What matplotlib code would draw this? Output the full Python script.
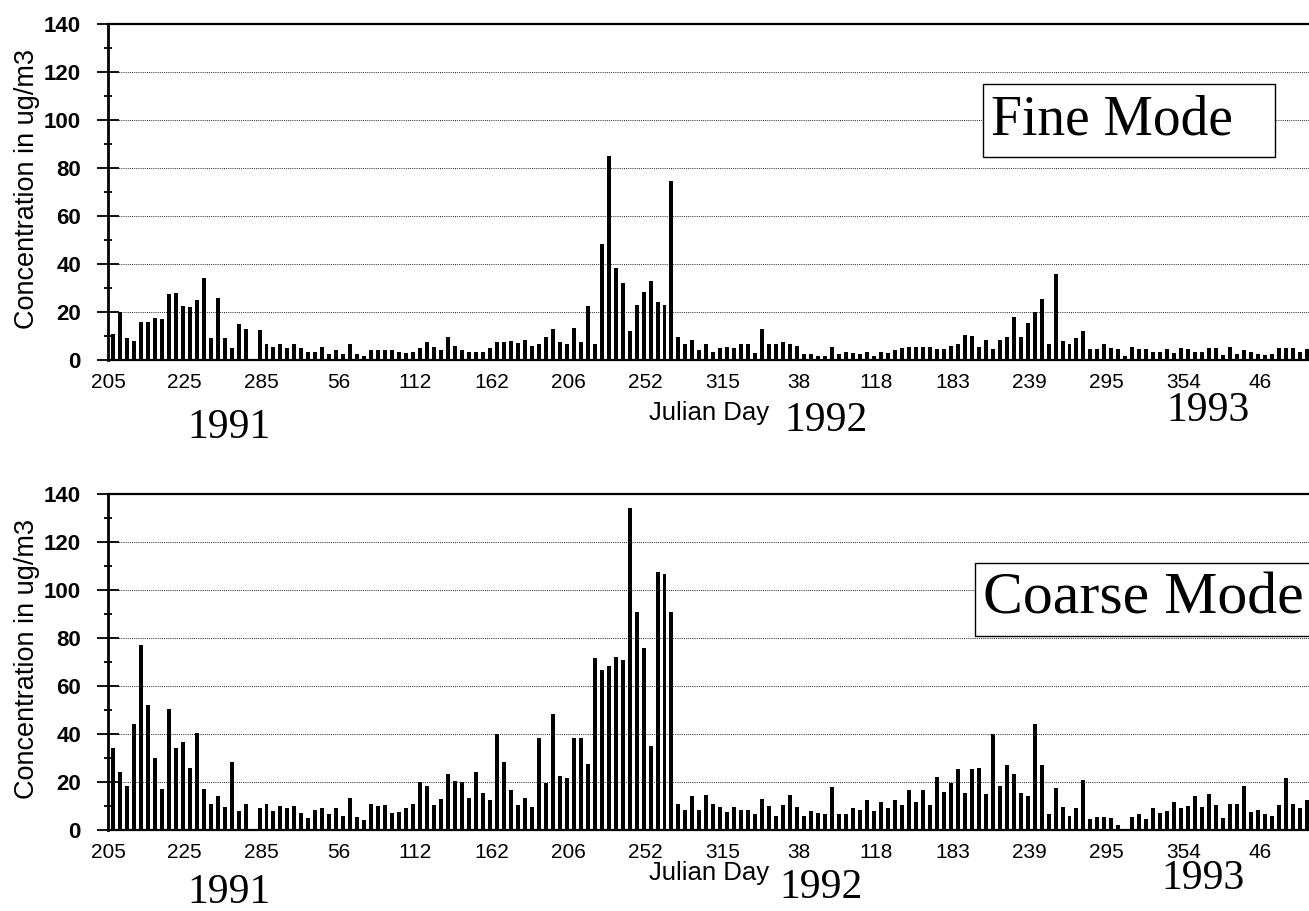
import numpy as np
import matplotlib
matplotlib.use("Agg")
import matplotlib.pyplot as plt
from matplotlib.patches import Rectangle
from matplotlib.ticker import MultipleLocator

plt.rcParams['font.family'] = ['Liberation Sans', 'DejaVu Sans']

# x axis labels (Julian day), one label every 11 samples
day_labels = ['205', '225', '285', '56', '112', '162', '206', '252', '315',
              '38', '118', '183', '239', '295', '354', '46']
label_step = 11
years = ['1991', '1992', '1993']

fine = [
    11, 20, 9, 8, 16, 16, 17.5, 17, 27.5, 28, 22.5, 22, 25, 34, 9, 26, 9, 5, 15, 13,
    0, 12.5, 6.5, 5.5, 6.5, 5, 6.5, 5, 3.5, 3.5,
    5.5, 2.5, 4, 2.5, 6.5, 2.5, 1.5, 4, 4, 4,
    4, 3.5, 3, 3.5, 5, 7.5, 5.5, 4, 9.5, 6,
    4, 3.5, 3.5, 3.5, 5, 7.5, 7.5, 8, 7, 8.5,
    6, 6.5, 9.5, 13, 7.5, 6.5, 13.5, 7.5, 22.5, 6.5,
    48.5, 85, 38.5, 32, 12, 23, 28.5, 33, 24, 23,
    74.5, 9.5, 6.5, 8.5, 4, 6.5, 3.5, 5, 5.5, 5,
    6.5, 6.5, 3, 13, 6.5, 6.5, 7.5, 6.5, 6, 2.5,
    2.5, 1.5, 1.5, 5.5, 2.5, 3.5, 3, 2.5, 3.5, 1.5,
    3.5, 3, 4, 5, 5.5, 5.5, 5.5, 5.5, 4.5, 4.5,
    6, 6.5, 10.5, 10, 5.5, 8.5, 4.5, 8.5, 9.5, 18,
    9.5, 15.5, 20, 25.5, 6.5, 36, 8, 6.5, 9, 12,
    4.5, 4.5, 6.5, 5, 4.5, 1.5, 5.5, 4.5, 4.5, 3.5,
    3.5, 4.5, 3, 5, 4.5, 3.5, 3.5, 5, 5, 2,
    5.5, 2.5, 4, 3.5, 2.5, 2, 2.5, 5, 5, 5,
    3.5, 4.5,
]

coarse = [
    34, 24, 18.5, 44, 77, 52, 30, 17, 50.5, 34, 36.5, 26, 40.5, 17, 11, 14, 9.5, 28.5, 8, 11,
    0, 9, 11, 8, 10, 9, 10, 7, 5, 8.5,
    9, 6.5, 9, 6, 13.5, 5.5, 4, 11, 10, 10.5,
    7, 7.5, 9, 11, 20, 18.5, 10.5, 13, 23.5, 20.5,
    20, 13.5, 24, 15.5, 12.5, 40, 28.5, 16.5, 10.5, 13.5,
    9.5, 38.5, 19.5, 48.5, 22.5, 21.5, 38.5, 38.5, 27.5, 71.5,
    66.5, 68.5, 72, 71, 134, 91, 76, 35, 107.5, 106.5,
    91, 11, 8.5, 14, 8.5, 14.5, 11, 9.5, 7.5, 9.5,
    8.5, 8.5, 6.5, 13, 10, 6, 10.5, 14.5, 9.5, 6,
    8, 7, 6.5, 18, 6.5, 6.5, 9, 8.5, 12.5, 8,
    11.5, 9, 12.5, 10.5, 16.5, 11.5, 16.5, 10.5, 22, 16,
    19.5, 25.5, 15.5, 25.5, 26, 15, 40, 18.5, 27, 23.5,
    15.5, 14, 44, 27, 6.5, 17.5, 9.5, 6, 9, 21,
    4.5, 5.5, 5.5, 5, 2, 0.6, 5.5, 6.5, 4.5, 9,
    7, 8, 11.5, 9, 10, 14, 9.5, 15, 10.5, 5,
    11, 11, 18.5, 7.5, 8.5, 6.5, 6, 10.5, 21.5, 11,
    9, 12.5,
]

fig = plt.figure(figsize=(13.09, 9.11), dpi=100)
ax_top = fig.add_axes([0.0825, 0.6048, 0.9175, 0.3689])
ax_bot = fig.add_axes([0.0825, 0.0889, 0.9175, 0.3688])

serif = ['Liberation Serif', 'DejaVu Serif']


def draw_panel(ax, values, title, box, title_size, year_pos, jd_y):
    x = np.arange(len(values))
    ax.bar(x, values, width=0.57, color='black', zorder=3)

    ax.set_xlim(-0.45, 171.3)
    ax.set_ylim(0, 140)
    ax.yaxis.set_major_locator(MultipleLocator(20))
    ax.yaxis.set_minor_locator(MultipleLocator(10))
    ax.grid(axis='y', which='major', linestyle=(0, (1, 1.2)), color='#222222',
            linewidth=0.7, zorder=1)

    ticks = np.arange(0, len(day_labels)) * label_step - 0.7
    ax.set_xticks(ticks)
    ax.set_xticklabels(day_labels, fontsize=15)
    ax.tick_params(axis='x', length=0, pad=9)
    ax.tick_params(axis='y', which='major', direction='inout', length=16,
                   width=1.3, labelsize=16, pad=11.5)
    ax.tick_params(axis='y', which='minor', direction='inout', length=6,
                   width=1.3)
    for lab in ax.get_yticklabels():
        lab.set_fontweight('bold')

    ax.spines['right'].set_visible(False)
    ax.spines['left'].set_linewidth(2)
    ax.spines['bottom'].set_linewidth(1.6)
    ax.spines['top'].set_linewidth(1.6)

    ax.set_ylabel('Concentration in ug/m3', fontsize=19.5)
    ax.yaxis.set_label_coords(-0.0566, 0.51)

    # mode label in a box
    bx, by, bw, bh, tx = box
    ax.add_patch(Rectangle((bx, by), bw, bh, transform=ax.transAxes,
                           facecolor='white', edgecolor='black', linewidth=1,
                           zorder=5, clip_on=False))
    ax.text(tx, by + bh / 2, title, transform=ax.transAxes, family=serif,
            fontsize=title_size, ha='center', va='center', zorder=6)

    ax.text(0.5004, jd_y, 'Julian Day', transform=ax.transAxes,
            fontsize=18.5, ha='center', va='center')
    for yr, (px, py) in zip(years, year_pos):
        ax.text(px, py, yr, transform=ax.transAxes, family=serif,
                fontsize=30, ha='center', va='center')


draw_panel(ax_top, fine, 'Fine Mode',
           (0.7286, 0.603, 0.2431, 0.2173, 0.836), 40,
           [(0.1008, -0.202), (0.5978, -0.182), (0.916, -0.152)], -0.158)
draw_panel(ax_bot, coarse, 'Coarse Mode',
           (0.722, 0.577, 0.30, 0.2173, 0.862), 43,
           [(0.1008, -0.186), (0.5936, -0.173), (0.9118, -0.146)], -0.128)

fig.savefig('out.png', dpi=100)
